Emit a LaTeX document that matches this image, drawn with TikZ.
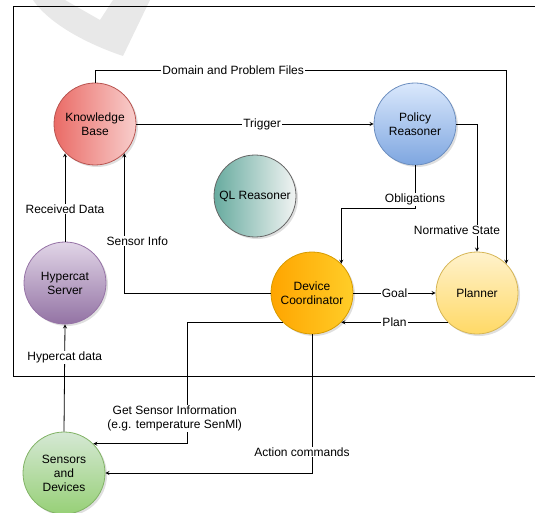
\documentclass[tikz,border=0pt]{standalone}
\usepackage{fontspec}
\setmainfont{Liberation Sans}
\usetikzlibrary{shadows}
\definecolor{kbdark}{HTML}{EA6B66}
\definecolor{kblight}{HTML}{F8CECC}
\definecolor{kbline}{HTML}{B85450}
\definecolor{prdark}{HTML}{7EA6E0}
\definecolor{prlight}{HTML}{DAE8FC}
\definecolor{prline}{HTML}{6C8EBF}
\definecolor{qldark}{HTML}{67AB9F}
\definecolor{qllight}{HTML}{F2F4F3}
\definecolor{hcdark}{HTML}{9373A4}
\definecolor{hclight}{HTML}{E1D5E7}
\definecolor{hcline}{HTML}{9673A6}
\definecolor{dcdark}{HTML}{FFA500}
\definecolor{dclight}{HTML}{FFCD28}
\definecolor{dcline}{HTML}{D79B00}
\definecolor{pldark}{HTML}{FFD966}
\definecolor{pllight}{HTML}{FFF2CC}
\definecolor{plline}{HTML}{D6B656}
\definecolor{sddark}{HTML}{97D077}
\definecolor{sdlight}{HTML}{D5E8D4}
\definecolor{sdline}{HTML}{82B366}
\tikzset{node/.style={circle, draw, minimum size=82pt, inner sep=0pt, align=center,
    font=\fontsize{12}{14}\selectfont, line width=0.8pt,
    drop shadow={opacity=0.25, shadow xshift=2pt, shadow yshift=-2pt}}}
\tikzset{lbl/.style={fill=white, inner sep=1pt, align=center, font=\fontsize{12}{14}\selectfont}}
\tikzset{arr/.style={-stealth, line width=0.8pt}}

\begin{document}
\begin{tikzpicture}[x=1pt, y=-1pt]

  \useasboundingbox (0,0) rectangle (535,513);

  % watermark
  \fill[black!9] (33,0) .. controls (50,25) and (90,45) .. (123,56) -- (150,0) -- (113,0)
    -- (100,20) -- (65,0) -- cycle;

  % frame
  \draw[line width=0.8pt] (545,6) -- (13,6) -- (13,376) -- (545,376);

  \node[node, shading=axis, left color=kbdark, right color=kblight, draw=kbline] (kb) at (95,124) {Knowledge\\Base};
  \node[node, shading=axis, top color=prlight, bottom color=prdark, draw=prline] (pr) at (415,124) {Policy\\Reasoner};
  \node[node, shading=axis, left color=qldark, right color=qllight, draw=black!60] (ql) at (255,196) {QL Reasoner};
  \node[node, shading=axis, top color=hclight, bottom color=hcdark, draw=hcline] (hc) at (65,283) {Hypercat\\Server};
  \node[node, shading=axis, left color=dcdark, right color=dclight, draw=dcline] (dc) at (312,293) {Device\\Coordinator};
  \node[node, shading=axis, top color=pllight, bottom color=pldark, draw=plline] (pl) at (477,293) {Planner};
  \node[node, shading=axis, top color=sdlight, bottom color=sddark, draw=sdline] (sd) at (64,473) {Sensors\\and\\Devices};

  \draw[arr] (kb.north) -- ++(0,-12) -| node[lbl, pos=0.168] {Domain and Problem Files} (pl.north east);
  \draw[arr] (kb) -- node[lbl, pos=0.53] {Trigger} (pr);
  \draw[arr] (pr.east) -| node[lbl, pos=0.918, xshift=-20pt] {Normative State} (pl.north);
  \draw[arr] (pr.south) -- node[lbl, pos=0.79] {Obligations} ++(0,43) -| (dc.north east);
  \draw[arr] (dc.west) -| node[lbl, pos=0.686, xshift=13pt] {Sensor Info} (kb.south east);
  \draw[arr] (hc.north) -- node[lbl, pos=0.37] {Received Data} (hc.north |- kb.south west);
  \draw[arr] (dc) -- node[lbl] {Goal} (pl);
  \draw[arr] (pl.south west) -- node[lbl] {Plan} (dc.south east);
  \draw[arr] (dc.south west) -- ++(-95,0) |- node[lbl, pos=0.397, xshift=-13pt] {Get Sensor Information\\(e.g. temperature SenMl)} (sd.north east);
  \draw[arr] (dc.south) |- node[lbl, pos=0.424, xshift=-10pt] {Action commands} (sd.east);
  \draw[arr] (sd.north) -- node[lbl, pos=0.69] {Hypercat data} (hc.south);

\end{tikzpicture}
\end{document}
